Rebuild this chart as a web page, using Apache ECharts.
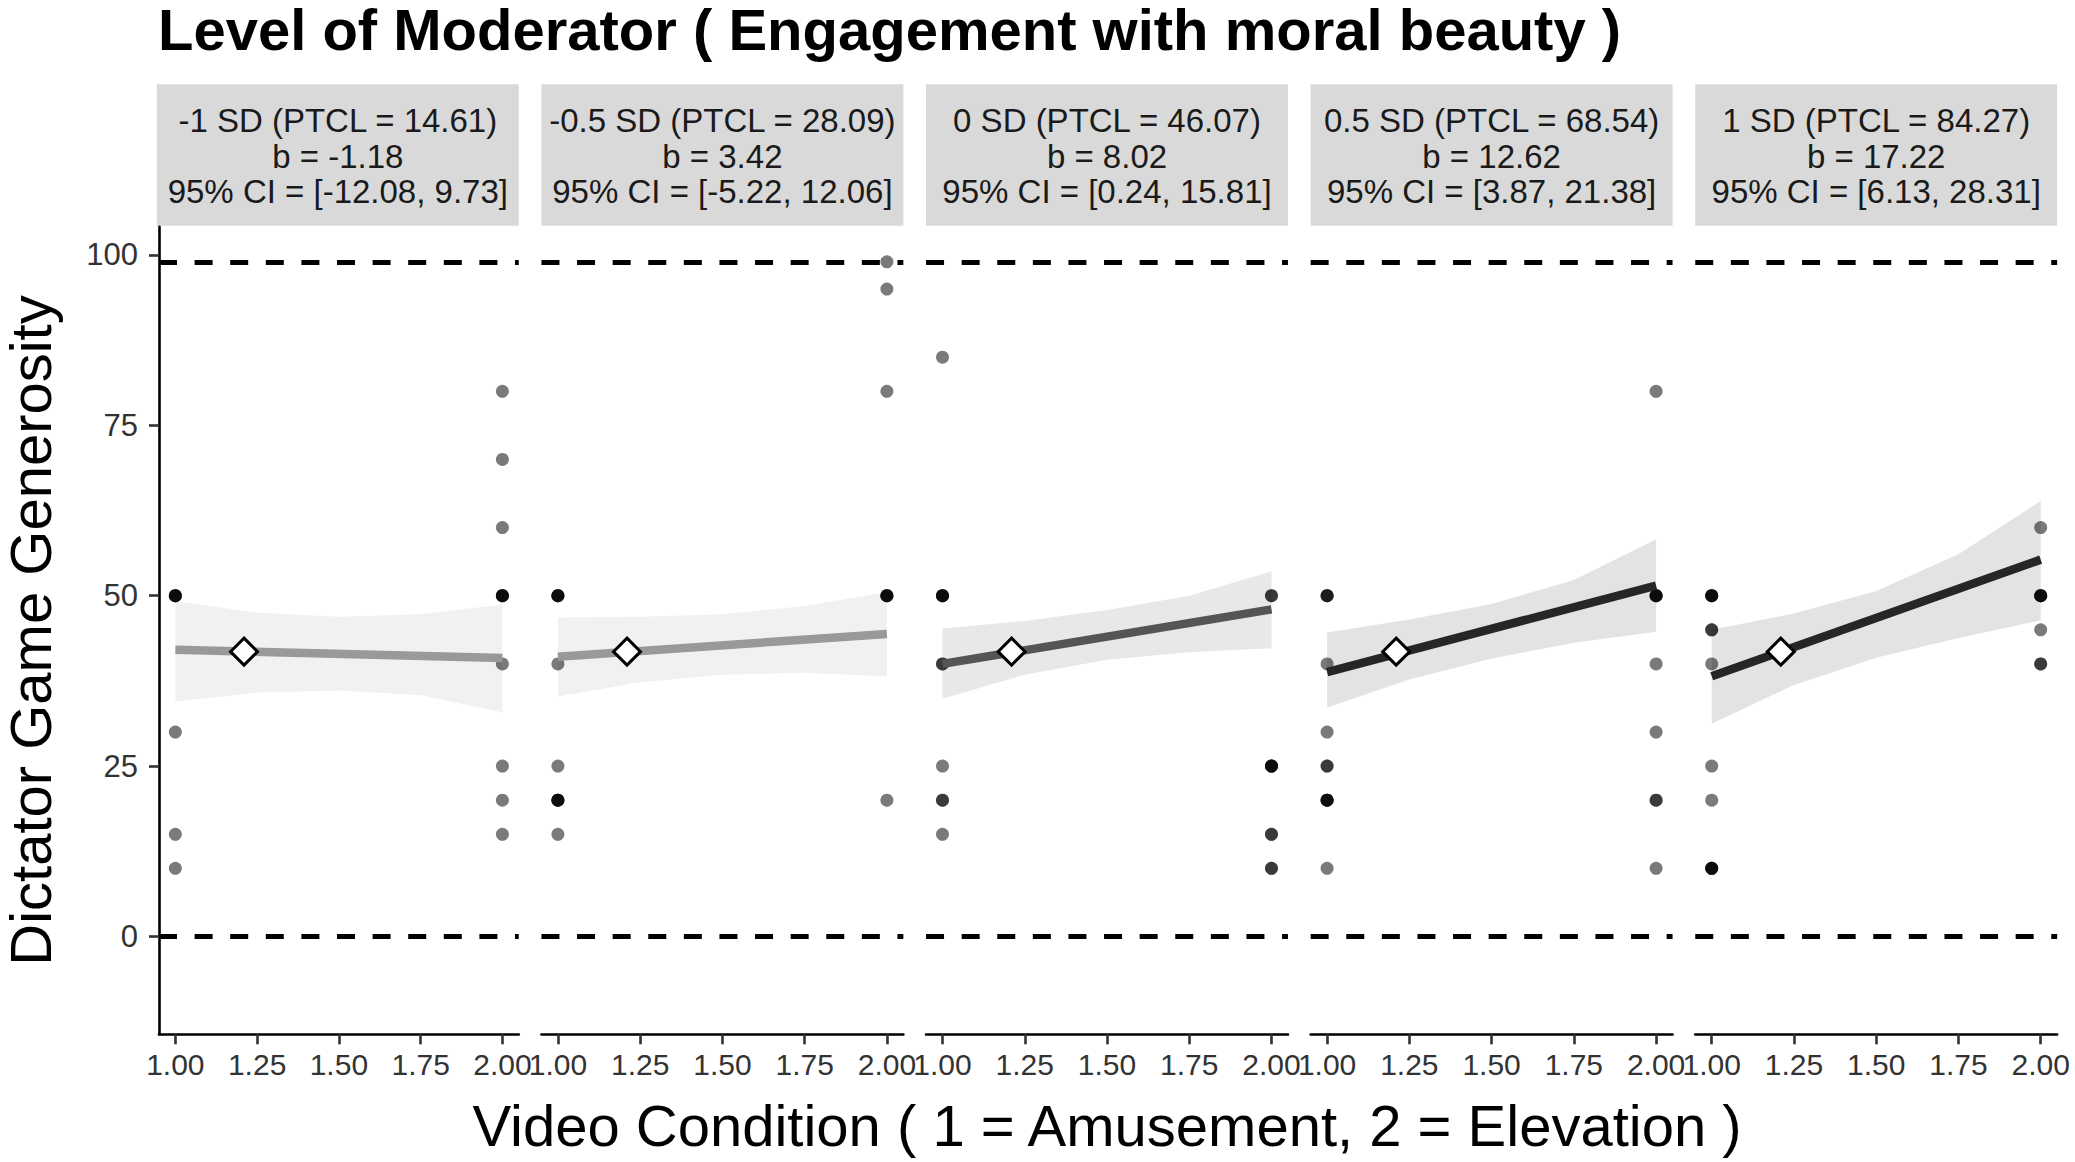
<!DOCTYPE html>
<html>
<head>
<meta charset="utf-8">
<script src="https://cdn.jsdelivr.net/npm/echarts@6/dist/echarts.min.js"></script>
<style>
html,body{margin:0;padding:0;background:#fff;}
#chart{width:2075px;height:1162px;}
</style>
</head>
<body>
<div id="chart"></div>
<script>
// ---- data ----
const titleText = 'Level of Moderator ( Engagement with moral beauty )';
const xTitle = 'Video Condition ( 1 = Amusement, 2 = Elevation )';
const yTitle = 'Dictator Game Generosity';

const sdLabels = ['-1 SD (PTCL = 14.61)', '-0.5 SD (PTCL = 28.09)', '0 SD (PTCL = 46.07)', '0.5 SD (PTCL = 68.54)', '1 SD (PTCL = 84.27)'];
const bLabels = ['b = -1.18', 'b = 3.42', 'b = 8.02', 'b = 12.62', 'b = 17.22'];
const ciLabels = ['95% CI = [-12.08, 9.73]', '95% CI = [-5.22, 12.06]', '95% CI = [0.24, 15.81]', '95% CI = [3.87, 21.38]', '95% CI = [6.13, 28.31]'];

const xTicks = [1, 1.25, 1.5, 1.75, 2];
const yTicks = [0, 25, 50, 75, 100];
const hlineValues = [0, 99];

// observations at Video Condition = 1 (Amusement) and 2 (Elevation), per panel
const amusementPts = [
  [50, 50, 50, 50, 30, 15, 10],
  [50, 50, 50, 50, 40, 25, 20, 20, 20, 20, 15],
  [85, 50, 50, 50, 50, 40, 40, 25, 20, 20, 15],
  [50, 50, 50, 40, 30, 25, 25, 20, 20, 20, 20, 10],
  [50, 50, 50, 50, 45, 45, 40, 25, 20, 10, 10, 10, 10]
];
const elevationPts = [
  [80, 70, 60, 50, 50, 50, 50, 40, 25, 20, 15],
  [99, 95, 80, 50, 50, 50, 50, 20],
  [50, 50, 25, 25, 25, 25, 15, 15, 10, 10],
  [80, 50, 50, 50, 50, 40, 30, 20, 20, 10],
  [60, 50, 50, 50, 50, 45, 40, 40]
];

// fitted line ends (x = 1 and x = 2)
const fitAt1 = [42.06, 41.06, 40.0, 38.8, 38.2];
const fitAt2 = [40.88, 44.4, 48.0, 51.5, 55.3];

// confidence ribbon
const ribbonX = [1, 1.25, 1.5, 1.75, 2];
const ribbonUpper = [
  [49.2, 47.5, 46.9, 47.3, 48.7],
  [46.8, 46.9, 47.3, 48.5, 50.5],
  [45.2, 46.3, 47.9, 50.0, 53.6],
  [44.6, 46.5, 48.8, 52.3, 58.3],
  [45.0, 47.4, 50.7, 56.1, 63.9]
];
const ribbonLower = [
  [34.5, 35.8, 36.1, 35.4, 32.9],
  [35.2, 37.3, 38.4, 38.7, 38.2],
  [34.9, 38.4, 40.6, 41.7, 42.3],
  [33.6, 37.7, 40.8, 43.1, 44.7],
  [31.2, 36.9, 40.9, 43.8, 46.4]
];

// mean point (diamond)
const meanX = [1.21, 1.21, 1.21, 1.21, 1.21];
const meanY = [41.8, 41.8, 41.8, 41.8, 41.8];

// ---- styling ----
const FONT = '"Liberation Sans", Arial, Helvetica, sans-serif';
const lineColors = ['#999999', '#999999', '#555555', '#262626', '#262626'];
const ribbonColors = ['#f1f1f1', '#f1f1f1', '#e8e8e8', '#e3e3e3', '#e3e3e3'];

const PANEL_LEFT0 = 156.85, PANEL_STEP = 384.6, PANEL_W = 361.9;
const PANEL_TOP = 226.7, PANEL_H = 807.6;
const STRIP_TOP = 84.3, STRIP_H = 141.4;

const grids = [], xAxes = [], yAxes = [], series = [], graphics = [];

for (let i = 0; i < 5; i++) {
  const left = PANEL_LEFT0 + i * PANEL_STEP;
  grids.push({left: left, top: PANEL_TOP, width: PANEL_W, height: PANEL_H, containLabel: false});
  const xa = {
    type: 'value', gridIndex: i, min: 0.95, max: 2.05,
    splitLine: {show: false},
    axisLine: {show: true, onZero: false, lineStyle: {color: '#000', width: 2.6}},
    axisTick: {show: true, customValues: xTicks, length: 10, lineStyle: {color: '#333', width: 2.6}},
    axisLabel: {show: true, customValues: xTicks, formatter: v => Number(v).toFixed(2),
      fontSize: 30, color: '#333', margin: 15, fontFamily: FONT}
  };
  if (i === 2) {
    xa.name = xTitle;
    xa.nameLocation = 'middle';
    xa.nameGap = 62;
    xa.nameTextStyle = {fontSize: 58, color: '#000', fontFamily: FONT, lineHeight: 58};
  }
  xAxes.push(xa);
  const ya = {
    type: 'value', gridIndex: i, min: -14.35, max: 104.15,
    show: i === 0,
    splitLine: {show: false},
    axisLine: {show: true, onZero: false, lineStyle: {color: '#000', width: 2.6}},
    axisTick: {show: true, customValues: yTicks, length: 10, lineStyle: {color: '#333', width: 2.6}},
    axisLabel: {show: true, customValues: yTicks, fontSize: 31, color: '#333', margin: 21, fontFamily: FONT}
  };
  if (i === 0) {
    ya.name = yTitle;
    ya.nameLocation = 'middle';
    ya.nameRotate = 90;
    ya.nameGap = 104;
    ya.nameTextStyle = {fontSize: 58, color: '#000', fontFamily: FONT, lineHeight: 50};
  }
  yAxes.push(ya);

  // confidence ribbon polygon
  series.push({
    type: 'custom', xAxisIndex: i, yAxisIndex: i, z: 1, silent: true,
    data: [[1.5, 40]],
    encode: {x: 0, y: 1},
    renderItem: (params, api) => {
      const pts = [];
      for (let k = 0; k < ribbonX.length; k++) pts.push(api.coord([ribbonX[k], ribbonUpper[i][k]]));
      for (let k = ribbonX.length - 1; k >= 0; k--) pts.push(api.coord([ribbonX[k], ribbonLower[i][k]]));
      return {type: 'polygon', shape: {points: pts}, style: {fill: ribbonColors[i], stroke: null}};
    }
  });

  // observations
  const pts = amusementPts[i].map(v => [1, v]).concat(elevationPts[i].map(v => [2, v]));
  series.push({
    type: 'scatter', xAxisIndex: i, yAxisIndex: i, z: 3,
    symbol: 'circle', symbolSize: 13,
    itemStyle: {color: 'rgba(0,0,0,0.52)', opacity: 1},
    data: pts,
    markLine: {
      silent: true, symbol: ['none', 'none'], label: {show: false},
      lineStyle: {color: '#000', width: 5, type: [18, 17.6], opacity: 1},
      data: hlineValues.map(v => ({yAxis: v}))
    }
  });

  // fitted line
  series.push({
    type: 'line', xAxisIndex: i, yAxisIndex: i, z: 4, symbol: 'none',
    lineStyle: {color: lineColors[i], width: 8.5, cap: 'butt'},
    data: [[1, fitAt1[i]], [2, fitAt2[i]]]
  });

  // mean diamond
  series.push({
    type: 'scatter', xAxisIndex: i, yAxisIndex: i, z: 5,
    symbol: 'diamond', symbolSize: [27, 27],
    itemStyle: {color: '#ffffff', borderColor: '#000', borderWidth: 3, opacity: 1},
    data: [[meanX[i], meanY[i]]]
  });

  // strip
  graphics.push({
    type: 'rect', silent: true,
    shape: {x: left, y: STRIP_TOP, width: PANEL_W, height: STRIP_H},
    style: {fill: '#d9d9d9'}
  });
  graphics.push({
    type: 'text', silent: true, x: left + PANEL_W / 2, y: STRIP_TOP + STRIP_H / 2 + 1,
    style: {
      text: sdLabels[i] + '\n' + bLabels[i] + '\n' + ciLabels[i],
      fontSize: 33, lineHeight: 35.5, fontFamily: FONT, fill: '#1a1a1a',
      align: 'center', verticalAlign: 'middle', textAlign: 'center', textVerticalAlign: 'middle'
    }
  });
}

const chart = echarts.init(document.getElementById('chart'), null, {renderer: 'svg'});
chart.setOption({
  animation: false,
  backgroundColor: '#fff',
  title: {
    text: titleText, left: 158, top: 4, padding: 0,
    textStyle: {fontSize: 58, fontWeight: 'bold', color: '#000', fontFamily: FONT, lineHeight: 50}
  },
  grid: grids,
  xAxis: xAxes,
  yAxis: yAxes,
  series: series,
  graphic: graphics
});
</script>
</body>
</html>
